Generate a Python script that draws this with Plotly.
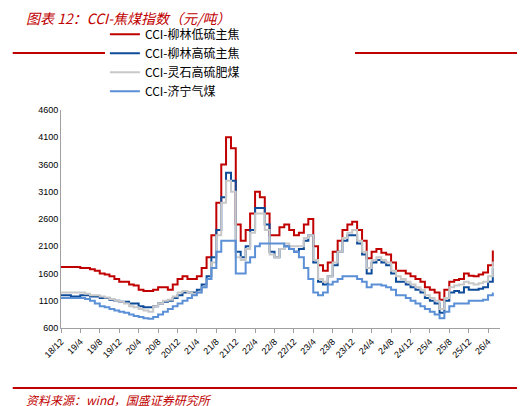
import plotly.graph_objects as go
import pandas as pd

dates = pd.date_range("2018-12-01", "2026-05-01", freq="MS")

red = [1720,
1720,1720,1720,1700,1700,1680,1650,1600,1580,1550,1500,1450,
1450,1400,1380,1300,1280,1280,1300,1350,1350,1300,1400,1500,
1550,1500,1500,1550,1700,1900,2300,2900,3600,4100,3900,2500,
2200,2400,2700,3100,3000,2700,2300,2300,2450,2500,2400,2300,
2350,2500,2600,2100,1750,1650,1800,2000,2200,2400,2500,2550,
2400,2200,1880,2000,2050,1980,1950,1800,1650,1650,1600,1550,
1500,1450,1350,1300,1250,1120,1300,1450,1480,1500,1600,1560,
1550,1580,1620,1750,2020]
dblue = [1200,
1200,1180,1180,1200,1200,1180,1180,1150,1150,1120,1100,1080,
1080,1050,1050,1000,980,980,1000,1050,1080,1100,1150,1200,
1250,1250,1250,1300,1400,1550,1900,2400,3000,3450,3300,2000,
1900,2100,2400,2800,2800,2500,2000,1900,2050,2100,2050,2000,
2050,2200,2300,1800,1450,1400,1550,1750,2000,2200,2300,2300,
2150,1950,1600,1800,1850,1800,1750,1600,1450,1450,1400,1350,
1300,1250,1150,1100,1050,880,1100,1250,1280,1250,1350,1300,
1300,1320,1350,1450,1700]
gray = [1250,
1250,1250,1250,1250,1230,1200,1200,1180,1160,1130,1100,1080,
1050,1000,980,950,920,900,1000,1050,1100,1120,1180,1250,
1280,1250,1230,1250,1350,1500,1800,2300,2900,3300,3100,1900,
1850,2050,2350,2700,2700,2400,1950,1900,2050,2150,2100,2100,
2100,2250,2300,1850,1500,1450,1550,1800,2000,2250,2350,2400,
2200,2000,1700,1850,1900,1850,1800,1650,1550,1500,1450,1400,
1350,1300,1200,1150,1100,950,1150,1350,1380,1400,1450,1420,
1400,1420,1450,1550,1820]
lblue = [1150,
1150,1150,1150,1150,1130,1100,1050,1000,980,950,920,900,
880,850,820,800,780,770,800,850,900,950,1000,1050,
1100,1150,1200,1250,1350,1500,1700,2000,2200,2200,2200,1600,
1600,1800,1900,2100,2150,2150,2150,2150,2150,2100,2050,2000,
1900,1700,1500,1250,1200,1250,1400,1450,1500,1550,1550,1550,
1500,1450,1350,1400,1400,1380,1350,1300,1200,1200,1150,1100,
1050,1000,950,900,850,780,900,1000,1050,1050,1050,1100,
1100,1100,1120,1200,1250]

names = ["CCI-柳林低硫主焦", "CCI-柳林高硫主焦", "CCI-灵石高硫肥煤", "CCI-济宁气煤"]
colors = ["#C00000", "#0E4C9A", "#C8C8C8", "#5B8FD6"]
series = [red, dblue, gray, lblue]

tickdates = pd.date_range("2018-12-01", "2026-04-01", freq="4MS")
ticklabels = [f"{d.year % 100}/{d.month}" for d in tickdates]

fig = go.Figure()
for n, c, s in zip(names, colors, series):
    fig.add_trace(go.Scatter(x=dates, y=s, name=n, mode="lines",
                             line=dict(color=c, width=2, shape="hv")))

fig.update_layout(
    width=525, height=406, paper_bgcolor="white", plot_bgcolor="white",
    margin=dict(l=53, r=33, t=98, b=86),
    font=dict(family="Noto Sans CJK SC", size=9, color="black"),
    showlegend=True,
    legend=dict(orientation="h", x=0.1, y=1.02, xanchor="left", yanchor="bottom",
                entrywidth=205, entrywidthmode="pixels", tracegroupgap=0,
                font=dict(size=12, family="Noto Sans CJK SC")),
    xaxis=dict(range=[dates[0], pd.Timestamp("2026-06-15")], tickvals=tickdates,
               ticktext=ticklabels, tickangle=-45, showgrid=False,
               showline=True, linecolor="#A0A0A0", ticks="outside",
               ticklen=4, tickcolor="#A0A0A0", tickfont=dict(size=9, family="Liberation Sans")),
    yaxis=dict(range=[600, 4600], tickvals=list(range(600, 4601, 500)), showgrid=False,
               showline=True, linecolor="#A0A0A0", ticks="", zeroline=False,
               tickfont=dict(size=9, family="Liberation Sans")),
)
fig.add_annotation(text="<i>图表 12：CCI-焦煤指数（元/吨）</i>", xref="paper", yref="paper",
                   x=-0.085, y=1.42, xanchor="left", yanchor="middle", showarrow=False,
                   font=dict(size=14, color="#C00000", family="Noto Sans CJK SC"))
fig.add_annotation(text="<i>资料来源：wind，国盛证券研究所</i>", xref="paper", yref="paper",
                   x=-0.085, y=-0.33, xanchor="left", yanchor="middle", showarrow=False,
                   font=dict(size=12, color="#C00000", family="Noto Sans CJK SC"))
fig.add_shape(type="line", xref="paper", yref="paper", x0=-0.11, x1=1.07, y0=1.261, y1=1.261,
              line=dict(color="#C00000", width=2))
fig.add_shape(type="line", xref="paper", yref="paper", x0=-0.11, x1=1.07, y0=-0.275, y1=-0.275,
              line=dict(color="#C00000", width=2))
fig.write_html("out.html")
